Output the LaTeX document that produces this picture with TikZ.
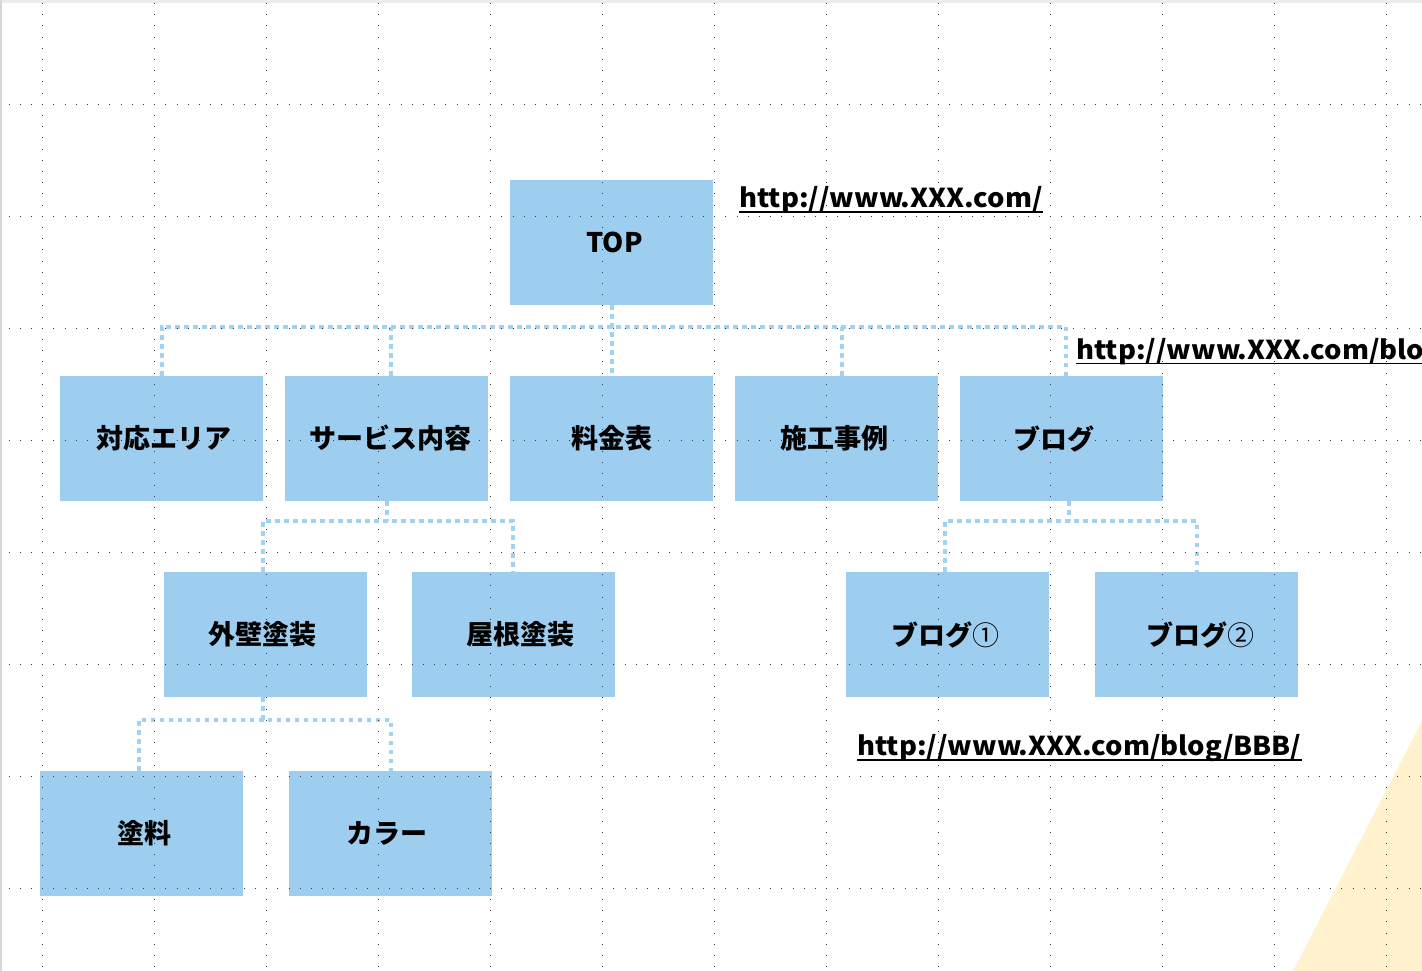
\documentclass[tikz,border=0pt]{standalone}
\usepackage{fontspec}
\newfontfamily\jp{Noto Sans CJK JP}
\usetikzlibrary{calc}
\definecolor{boxblue}{HTML}{9DCEEF}
\definecolor{connblue}{HTML}{A3D2F1}
\definecolor{triyellow}{HTML}{FFF2CC}
\definecolor{gridgray}{HTML}{3A3A3A}
\definecolor{bandgray}{HTML}{EBEBEB}
\definecolor{edgegray}{HTML}{D6D6D6}
\tikzset{
  box/.style={fill=boxblue, draw=none, minimum width=203pt, minimum height=125pt,
    inner sep=0pt, text=black, font=\jp\bfseries\fontsize{27}{32}\selectfont},
  conn/.style={draw=connblue, line width=4pt, dash pattern=on 4.5pt off 4.5pt},
  url/.style={inner sep=0pt, anchor=base west, text=black,
    font=\jp\bfseries\fontsize{26}{30}\selectfont},
  ul/.style={draw=black, line width=1.6pt},
  griddot/.style={draw=gridgray, line width=1.1pt, dash pattern=on 1.1pt off 10.1pt},
}
\newcommand\urlscale[1]{\scalebox{1.055}[1]{#1}}
\newcommand\padR[1]{\rule{#1}{0pt}}
\begin{document}
\begin{tikzpicture}[x=1pt,y=-1pt]
\useasboundingbox (0,0) rectangle (1422,971);
\clip (0,0) rectangle (1422,971);
\fill[white] (0,0) rectangle (1422,971);
\fill[bandgray] (0,0) rectangle (1422,3);
\fill[edgegray] (0,0) rectangle (2,971);
\fill[triyellow] (1293,971) -- (1422,721) -- (1422,971) -- cycle;

% boxes
\node[box] (top)   at (611.5,242.5) {\padR{6pt}TOP};
\node[box] (area)  at (161.5,438.5) {\padR{4pt}対応エリア};
\node[box] (serv)  at (386.5,438.5) {\padR{8pt}サービス内容};
\node[box] (price) at (611.5,438.5) {料金表};
\node[box] (cases) at (836.5,438.5) {施工事例\padR{5pt}};
\node[box] (blog)  at (1061.5,438.5) {ブログ\padR{16pt}};
\node[box] (outer) at (265.5,634.5) {外壁塗装\padR{7pt}};
\node[box] (roof)  at (513.5,634.5) {\padR{14pt}屋根塗装};
\node[box] (blog1) at (947.5,634.5) {ブログ{\mdseries ①}\padR{5pt}};
\node[box] (blog2) at (1196.5,634.5) {\padR{8pt}ブログ{\mdseries ②}};
\node[box] (paint) at (141.5,833.5) {\padR{6pt}塗料};
\node[box] (color) at (390.5,833.5) {カラー\padR{7pt}};

% connectors
\coordinate (bus1) at (611,326.5);
\draw[conn] (area.north) |- (bus1) -| ([xshift=4.5pt]blog.north);
\draw[conn] (top.south) -- (price.north);
\draw[conn] ([xshift=4.5pt]serv.north) -- ([xshift=4.5pt]serv.north |- bus1);
\draw[conn] ([xshift=5.5pt]cases.north) -- ([xshift=5.5pt]cases.north |- bus1);

\coordinate (bus2) at (386,521);
\draw[conn] (serv.south) -- (serv.south |- bus2);
\draw[conn] ([xshift=-2.5pt]outer.north) |- (bus2) -| ([xshift=-0.5pt]roof.north);

\coordinate (bus3) at (1069,521);
\draw[conn] ([xshift=7.5pt]blog.south) -- (bus3);
\draw[conn] ([xshift=-2.5pt]blog1.north) |- (bus3) -| (blog2.north);

\coordinate (bus4) at (263,719.5);
\draw[conn] ([xshift=-2.5pt]outer.south) -- (bus4);
\draw[conn] ([xshift=-2.5pt]paint.north) |- (bus4) -| (color.north);

% URLs
\node[url] (u1) at (739,207.7) {\urlscale{http://www.XXX.com/}};
\node[url] (u2) at (1076,359.3) {\urlscale{http://www.XXX.com/blog/}};
\node[url] (u3) at (857,755) {\urlscale{http://www.XXX.com/blog/BBB/}};
\draw[ul] ($(u1.base west)+(0,4.5)$) -- ($(u1.base east)+(0,4.5)$);
\draw[ul] ($(u2.base west)+(0,4.0)$) -- ($(u2.base east)+(0,4.0)$);
\draw[ul] ($(u3.base west)+(0,4.8)$) -- ($(u3.base east)+(0,4.8)$);

% dotted grid
\foreach \y in {104.3,216.3,328.3,440.3,552.3,664.3,776.3,888.3}
  \draw[griddot] (8.55,\y) -- (1422,\y);
\foreach \x in {42.7,154.7,266.7,378.7,490.7,602.7,714.7,826.7,938.7,1050.7,1162.7,1274.7,1386.7}
  \draw[griddot] (\x,2.95) -- (\x,971);
\end{tikzpicture}
\end{document}
